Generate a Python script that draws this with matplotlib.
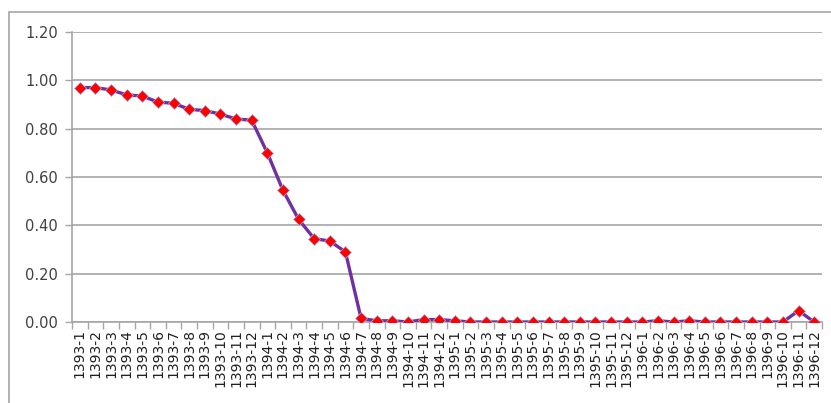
import matplotlib
matplotlib.use("Agg")
import matplotlib.pyplot as plt
from matplotlib.patches import Rectangle
from matplotlib.ticker import FixedLocator
import numpy as np

labels = [f"{y}-{m}" for y in (1393, 1394, 1395, 1396) for m in range(1, 13)]
values = [0.97, 0.97, 0.96, 0.94, 0.935, 0.91, 0.905, 0.88, 0.875, 0.86, 0.84, 0.835,
          0.70, 0.545, 0.425, 0.345, 0.335, 0.29, 0.015, 0.005, 0.005, 0.0, 0.01, 0.01,
          0.005, 0.0, 0.0, 0.0, 0.0, 0.0, 0.0, 0.0, 0.0, 0.0, 0.0, 0.0,
          0.0, 0.005, 0.0, 0.005, 0.0, 0.0, 0.0, 0.0, 0.0, 0.0, 0.047, 0.0]
yticks = [0.0, 0.2, 0.4, 0.6, 0.8, 1.0, 1.2]

W, H = 831, 403
fig = plt.figure(figsize=(W / 100, H / 100), dpi=100)
fig.patches.append(Rectangle((9 / W, -0.05), 1.1, (H - 12) / H + 0.05, transform=fig.transFigure,
                             fill=False, edgecolor="#A6A6A6", linewidth=1.2))
ax = fig.add_axes([72 / W, (H - 322) / H, (822 - 72) / W, (322 - 32) / H])

x = np.arange(len(labels))
ax.plot(x, values, color="#7030A0", linewidth=2.4, zorder=3)
ax.plot(x, values, linestyle="none", marker="D", markersize=6.5, markerfacecolor="#FF0000",
        markeredgecolor="#9DB6E0", markeredgewidth=0.5, zorder=4)

ax.set_xlim(-0.5, len(labels) - 0.5)
ax.set_ylim(0, 1.2)
ax.set_yticks(yticks)
ax.set_yticklabels([f"{v:.2f}" for v in yticks], fontsize=10.5, color="#404040")
ax.yaxis.grid(True, color="#A6A6A6", linewidth=1.2)
ax.set_axisbelow(True)

ax.set_xticks(x)
ax.set_xticklabels(labels, rotation=90, fontsize=10, color="#202020")
ax.tick_params(axis="x", which="major", length=0, pad=5)
ax.xaxis.set_minor_locator(FixedLocator(np.arange(-0.5, len(labels), 1)))
ax.tick_params(axis="x", which="minor", length=5, color="#A6A6A6", width=1)
ax.tick_params(axis="y", length=5, color="#A6A6A6", width=1, pad=5)

for s in ("top", "right"):
    ax.spines[s].set_visible(False)
for s in ("left", "bottom"):
    ax.spines[s].set_color("#A6A6A6")
    ax.spines[s].set_linewidth(1.2)

fig.savefig("out.png", dpi=100)
